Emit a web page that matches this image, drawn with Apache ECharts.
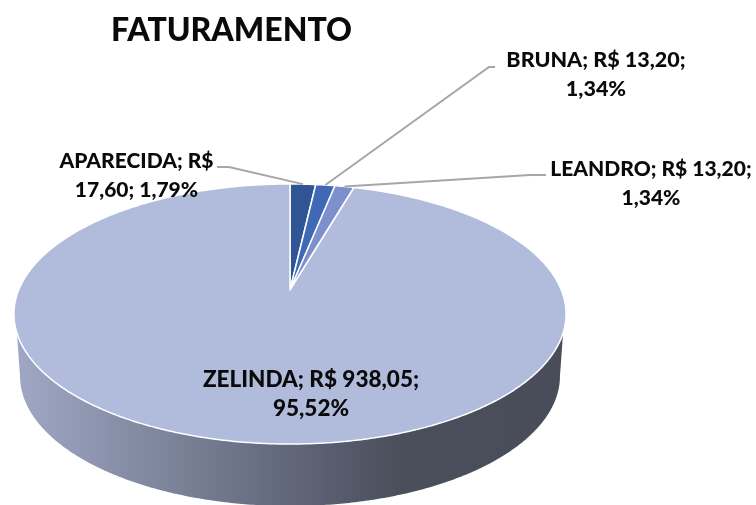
<!DOCTYPE html>
<html>
<head>
<meta charset="utf-8">
<style>html,body{margin:0;padding:0;background:#fff}#c{width:756px;height:505px}</style>
<script src="https://cdn.jsdelivr.net/npm/echarts@6/dist/echarts.min.js"></script>
</head>
<body>
<div id="c"></div>
<script>
const titleText = 'FATURAMENTO';
const names = ['APARECIDA', 'BRUNA', 'LEANDRO', 'ZELINDA'];
const values = [17.60, 13.20, 13.20, 938.05];
const percents = ['1,79', '1,34', '1,34', '95,52'];
const colors = ['#2F5597', '#3F68B5', '#7D90CC', '#B1BCDC'];

// Layout of the tilted pie (perspective projection of a circle)
const CX = 290, CY = 290, A = 271.3, B = 125.6, K = 0.1846;
const WALL_SHIFT = 62, WALL_SCALE = 0.978;
const labelLayout = [
  {x: 136.5, y: 176, size: 21, wrap: 2, elbow: [[217, 167], [229, 167]]},
  {x: 596, y: 75, size: 21.5, wrap: 3, elbow: [[495, 67], [489, 67]]},
  {x: 651, y: 184, size: 21, wrap: 3, elbow: [[546, 175], [530, 175]]},
  {x: 311, y: 394, size: 22.5, wrap: 3, elbow: null}
];

function project(deg, sx, dy) {
  const t = deg * Math.PI / 180, u = Math.sin(t), v = Math.cos(t), w = 1 + K * v;
  return [CX + (sx || 1) * A * u / w, CY - B * v / w + (dy || 0)];
}
function arc(a0, a1, sx, dy) {
  const pts = [], n = Math.max(2, Math.ceil(Math.abs(a1 - a0) / 0.5));
  for (let i = 0; i <= n; i++) pts.push(project(a0 + (a1 - a0) * i / n, sx, dy));
  return pts;
}
const total = values.reduce((a, b) => a + b, 0);
function labelText(i) {
  const money = values[i].toFixed(2).replace('.', ',');
  const words = (names[i] + '; R$ ' + money + '; ' + percents[i] + '%').split(' ');
  const n = labelLayout[i].wrap;
  return words.slice(0, n).join(' ') + '\n' + words.slice(n).join(' ');
}
const wallGradient = new echarts.graphic.LinearGradient(14, 0, 566, 0, [
  {offset: 0, color: '#A0A8C6'},
  {offset: 0.25, color: '#80889F'},
  {offset: 0.5, color: '#61667A'},
  {offset: 0.7, color: '#4A4F5B'},
  {offset: 1, color: '#484D59'}
], true);

function renderSlice(params, api) {
  const i = params.dataIndex;
  const before = values.slice(0, i).reduce((a, b) => a + b, 0);
  const a0 = before / total * 360, a1 = (before + api.value(1)) / total * 360;
  const children = [];
  // side wall: only the front part of the rim
  const topA = Math.max(a0, 108.8), topB = Math.min(a1, 251.2);
  if (topB > topA) {
    const botA = Math.max(a0, 100.6), botB = Math.min(a1, 259.4);
    children.push({
      type: 'polygon', z2: 1,
      shape: {points: arc(topA, topB).concat(arc(botB, botA, WALL_SCALE, WALL_SHIFT))},
      style: {fill: wallGradient}
    });
  }
  // top face
  children.push({
    type: 'polygon', z2: 2,
    shape: {points: [[CX, CY]].concat(arc(a0, a1))},
    style: {fill: colors[i], stroke: '#fff', lineWidth: 1.5, lineJoin: 'round'}
  });
  const lay = labelLayout[i];
  if (lay.elbow) {
    const rim = project((a0 + a1) / 2);
    children.push({
      type: 'polyline', z2: 5,
      shape: {points: lay.elbow.concat([rim])},
      style: {fill: null, stroke: '#A6A6A6', lineWidth: 2}
    });
  }
  children.push({
    type: 'text', z2: 6, x: lay.x, y: lay.y,
    style: {
      text: labelText(i), align: 'center', verticalAlign: 'middle',
      font: '900 ' + lay.size + 'px Lato', lineHeight: 29, fill: '#0a0a0a'
    }
  });
  return {type: 'group', children};
}

const chart = echarts.init(document.getElementById('c'), null, {renderer: 'canvas'});
chart.setOption({
  animation: false,
  backgroundColor: '#fff',
  title: {
    text: titleText, left: 106, top: 10,
    textStyle: {fontFamily: 'Lato', fontWeight: 900, fontSize: 32, color: '#0a0a0a'}
  },
  series: [{
    type: 'custom',
    coordinateSystem: 'none',
    renderItem: renderSlice,
    silent: true,
    clip: false,
    data: names.map((n, i) => ({name: n, value: [i, values[i]]}))
  }]
});
</script>
</body>
</html>
